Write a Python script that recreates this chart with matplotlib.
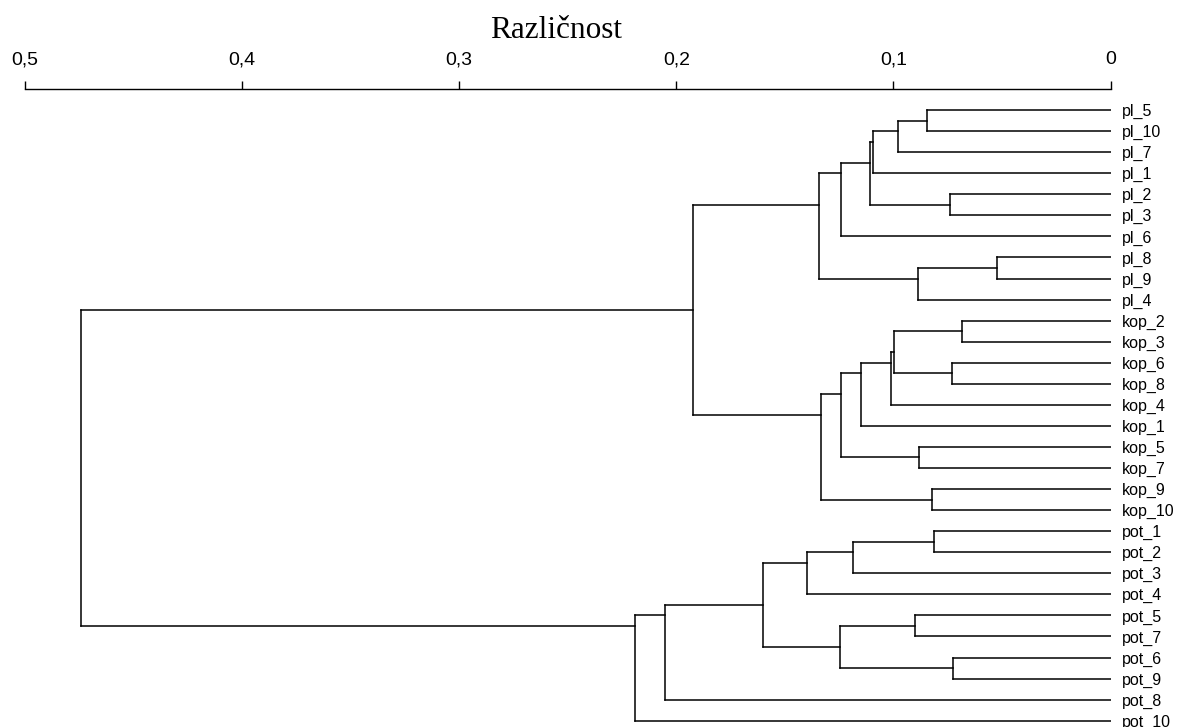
import matplotlib.pyplot as plt

# leaves in display order (top to bottom)
labels = ["pl_5", "pl_10", "pl_7", "pl_1", "pl_2", "pl_3", "pl_6", "pl_8", "pl_9", "pl_4",
          "kop_2", "kop_3", "kop_6", "kop_8", "kop_4", "kop_1", "kop_5", "kop_7", "kop_9", "kop_10",
          "pot_1", "pot_2", "pot_3", "pot_4", "pot_5", "pot_7", "pot_6", "pot_9", "pot_8", "pot_10"]

# merges, linkage style: leaves are 0..29, new clusters get 30, 31, ...
merge_a = [7, 10, 26, 12, 4, 20, 18, 0, 16, 30, 24, 37, 31, 42, 41, 44, 43, 35, 45, 46,
           40, 49, 48, 47, 53, 52, 54, 56, 55]
merge_b = [8, 11, 27, 13, 5, 21, 19, 1, 17, 9, 25, 2, 33, 14, 3, 34, 15, 22, 6, 38,
           32, 36, 39, 23, 50, 51, 28, 29, 57]
merge_h = [0.0524, 0.0685, 0.0725, 0.0731, 0.0739, 0.0812, 0.0823, 0.0846, 0.0880, 0.0887,
           0.0902, 0.0981, 0.0996, 0.1010, 0.1094, 0.1110, 0.1150, 0.1184, 0.1242, 0.1240,
           0.1248, 0.1334, 0.1345, 0.1399, 0.1601, 0.1921, 0.2052, 0.2192, 0.4742]

ticks = [0.5, 0.4, 0.3, 0.2, 0.1, 0]
tick_labels = ["0,5", "0,4", "0,3", "0,2", "0,1", "0"]

fig = plt.figure(figsize=(11.77, 7.27), dpi=100)
ax = fig.add_axes([25 / 1177, 0, 1085.5 / 1177, 1 - 89 / 727])

n = len(labels)
# cluster position = mean of its leaves, height = merge height
members = {i: [i] for i in range(n)}
height = {i: 0.0 for i in range(n)}
for k in range(len(merge_h)):
    a, b, h = merge_a[k], merge_b[k], merge_h[k]
    ya = sum(members[a]) / len(members[a])
    yb = sum(members[b]) / len(members[b])
    ax.plot([h, h], [ya, yb], color="black", lw=1.1)
    ax.plot([height[a], h], [ya, ya], color="black", lw=1.1)
    ax.plot([height[b], h], [yb, yb], color="black", lw=1.1)
    members[n + k] = members[a] + members[b]
    height[n + k] = h

ax.set_xlim(0.5, 0)
ax.set_ylim(n - 1 + 0.3, -1.0)

ax.xaxis.tick_top()
ax.set_xticks(ticks)
ax.set_xticklabels(tick_labels, fontsize=14, family="Liberation Sans")
ax.tick_params(axis="x", direction="out", length=6, width=1, pad=9)

ax.yaxis.tick_right()
ax.set_yticks(range(n))
ax.set_yticklabels(labels, fontsize=11.5, family="Liberation Sans")
ax.tick_params(axis="y", length=0, pad=8)

for s in ["left", "right", "bottom"]:
    ax.spines[s].set_visible(False)
ax.spines["top"].set_linewidth(1)

fig.text(556 / 1177, 1 - 37.5 / 727, "Različnost", ha="center", va="baseline",
         fontsize=22.5, family="Liberation Serif")

fig.savefig("out.png", dpi=100)
